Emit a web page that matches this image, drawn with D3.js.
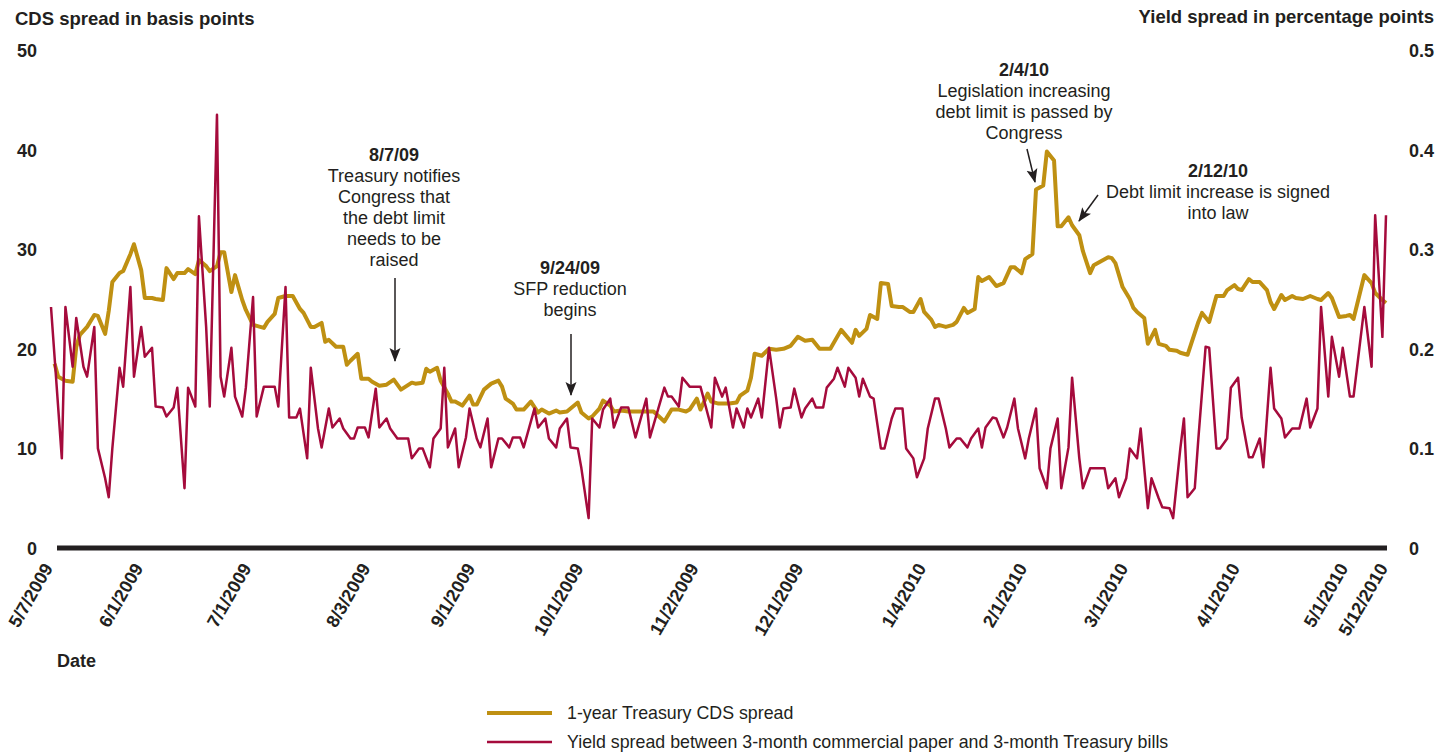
<!DOCTYPE html>
<html>
<head>
<meta charset="utf-8">
<script src="https://cdn.jsdelivr.net/npm/d3@7"></script>
<style>
body { margin: 0; background: #fff; }
text { font-family: "Liberation Sans", Arial, Helvetica, sans-serif; fill: #231f20; }
</style>
</head>
<body>
<div id="chart"></div>
<script>
// 1-year Treasury CDS spread (basis points)
var cdsDates = [
  "5/8/09","5/9/09","5/11/09","5/13/09","5/14/09","5/15/09","5/17/09","5/19/09","5/20/09","5/22/09",
  "5/23/09","5/24/09","5/26/09","5/27/09","5/29/09","5/30/09","6/1/09","6/2/09","6/4/09","6/5/09",
  "6/7/09","6/8/09","6/10/09","6/11/09","6/13/09","6/14/09","6/16/09","6/17/09","6/19/09","6/20/09",
  "6/22/09","6/23/09","6/24/09","6/26/09","6/27/09","6/29/09","6/30/09","7/2/09","7/3/09","7/5/09",
  "7/6/09","7/8/09","7/9/09","7/11/09","7/13/09","7/15/09","7/16/09","7/18/09","7/19/09","7/21/09",
  "7/22/09","7/23/09","7/25/09","7/27/09","7/28/09","7/29/09","7/31/09","8/1/09","8/3/09","8/4/09",
  "8/6/09","8/8/09","8/10/09","8/12/09","8/15/09","8/16/09","8/18/09","8/19/09","8/20/09","8/22/09",
  "8/23/09","8/25/09","8/26/09","8/27/09","8/29/09","8/31/09","9/1/09","9/2/09","9/4/09","9/6/09",
  "9/8/09","9/9/09","9/10/09","9/12/09","9/13/09","9/15/09","9/17/09","9/19/09","9/20/09","9/22/09",
  "9/24/09","9/25/09","9/27/09","9/28/09","9/30/09","10/1/09","10/3/09","10/4/09","10/6/09","10/7/09",
  "10/9/09","10/10/09","10/12/09","10/14/09","10/17/09","10/20/09","10/21/09","10/24/09","10/25/09","10/26/09",
  "10/28/09","10/30/09","10/31/09","11/2/09","11/3/09","11/5/09","11/6/09","11/8/09","11/11/09","11/13/09",
  "11/14/09","11/16/09","11/17/09","11/18/09","11/20/09","11/22/09","11/24/09","11/26/09","11/28/09","11/30/09",
  "12/2/09","12/4/09","12/6/09","12/9/09","12/12/09","12/15/09","12/16/09","12/17/09","12/19/09","12/20/09",
  "12/22/09","12/23/09","12/25/09","12/26/09","12/28/09","12/29/09","12/31/09","1/1/10","1/3/10","1/4/10",
  "1/6/10","1/7/10","1/8/10","1/10/10","1/12/10","1/13/10","1/15/10","1/16/10","1/18/10","1/19/10",
  "1/20/10","1/22/10","1/24/10","1/26/10","1/28/10","1/29/10","1/31/10","2/1/10","2/3/10","2/4/10",
  "2/6/10","2/7/10","2/9/10","2/10/10","2/11/10","2/13/10","2/14/10","2/16/10","2/17/10","2/19/10",
  "2/20/10","2/22/10","2/24/10","2/25/10","2/26/10","2/28/10","3/2/10","3/3/10","3/4/10","3/6/10",
  "3/7/10","3/9/10","3/10/10","3/12/10","3/13/10","3/15/10","3/16/10","3/18/10","3/19/10","3/21/10",
  "3/22/10","3/24/10","3/26/10","3/28/10","3/29/10","3/31/10","4/1/10","4/2/10","4/4/10","4/5/10",
  "4/7/10","4/9/10","4/10/10","4/11/10","4/13/10","4/14/10","4/16/10","4/17/10","4/19/10","4/21/10",
  "4/23/10","4/24/10","4/26/10","4/27/10","4/29/10","5/1/10","5/2/10","5/3/10","5/6/10","5/8/10",
  "5/9/10","5/11/10","5/12/10"
];
var cdsValues = [
  18.5,17.2,16.8,16.7,20.2,21.4,22.2,23.4,23.3,21.5,
  23.8,26.7,27.6,27.8,29.5,30.5,27.9,25.1,25.1,25.0,
  24.9,28.1,27.0,27.6,27.6,28.0,27.5,28.9,28.3,27.8,
  28.3,29.7,29.7,25.7,27.4,24.9,23.9,22.4,22.3,22.1,
  22.7,23.5,25.1,25.3,25.3,24.0,23.6,22.2,22.2,22.6,
  20.7,20.9,20.2,20.2,18.4,18.8,19.5,17.0,17.0,16.7,
  16.3,16.4,16.9,15.9,16.6,16.5,16.6,18.0,17.7,18.1,
  16.8,15.5,14.7,14.7,14.3,15.3,14.4,14.4,15.9,16.5,
  16.8,16.2,15.0,14.5,13.9,13.9,14.7,13.6,13.9,13.5,
  13.8,13.6,13.7,14.0,14.6,13.6,13.0,13.2,14.0,14.8,
  14.3,13.7,13.8,13.7,13.7,13.7,13.7,12.7,13.3,13.9,
  13.9,13.7,13.9,15.0,13.9,15.5,14.7,14.5,14.5,14.6,
  15.3,15.8,17.1,19.5,19.3,20.0,19.9,20.0,20.3,21.2,
  20.8,20.9,20.0,20.0,21.9,20.6,21.9,21.3,22.0,23.4,
  23.0,26.6,26.5,24.3,24.2,24.2,23.7,23.7,25.0,23.7,
  22.9,22.2,22.4,22.2,22.4,22.7,24.1,23.6,24.0,27.2,
  26.8,27.2,26.3,26.6,28.2,28.2,27.6,29.0,29.5,36.0,
  36.4,39.8,38.9,32.3,32.3,33.2,32.4,31.4,29.8,27.6,
  28.4,28.8,29.2,29.1,28.6,26.2,25.0,24.1,23.7,23.1,
  20.5,21.9,20.5,20.3,19.9,19.8,19.6,19.4,20.5,22.7,
  23.6,22.7,25.3,25.3,25.9,26.4,26.0,25.9,27.0,26.7,
  26.7,25.9,24.7,24.0,25.4,24.9,25.3,25.1,25.0,25.3,
  25.0,24.9,25.6,25.1,23.2,23.3,23.4,23.0,27.4,26.6,
  25.6,24.9,24.6
];

// yield spread, 3-month commercial paper minus 3-month T-bills (percentage points)
var yieldDates = [
  "5/7/09","5/10/09","5/11/09","5/13/09","5/14/09","5/16/09","5/17/09","5/19/09","5/20/09","5/22/09",
  "5/23/09","5/24/09","5/26/09","5/27/09","5/29/09","5/30/09","6/1/09","6/2/09","6/4/09","6/5/09",
  "6/7/09","6/8/09","6/10/09","6/11/09","6/13/09","6/14/09","6/16/09","6/17/09","6/19/09","6/20/09",
  "6/22/09","6/23/09","6/24/09","6/26/09","6/27/09","6/29/09","6/30/09","7/2/09","7/3/09","7/5/09",
  "7/8/09","7/9/09","7/11/09","7/12/09","7/14/09","7/15/09","7/17/09","7/18/09","7/20/09","7/21/09",
  "7/23/09","7/24/09","7/26/09","7/27/09","7/29/09","7/30/09","7/31/09","8/2/09","8/3/09","8/5/09",
  "8/6/09","8/8/09","8/9/09","8/11/09","8/14/09","8/15/09","8/17/09","8/18/09","8/20/09","8/21/09",
  "8/23/09","8/24/09","8/25/09","8/27/09","8/28/09","8/30/09","8/31/09","9/2/09","9/3/09","9/5/09",
  "9/6/09","9/8/09","9/9/09","9/11/09","9/12/09","9/14/09","9/15/09","9/18/09","9/19/09","9/21/09",
  "9/22/09","9/24/09","9/25/09","9/27/09","9/28/09","9/30/09","10/1/09","10/3/09","10/4/09","10/6/09",
  "10/7/09","10/9/09","10/10/09","10/12/09","10/14/09","10/16/09","10/19/09","10/20/09","10/24/09","10/25/09",
  "10/26/09","10/28/09","10/29/09","10/31/09","11/3/09","11/6/09","11/7/09","11/9/09","11/10/09","11/12/09",
  "11/13/09","11/15/09","11/16/09","11/17/09","11/19/09","11/20/09","11/22/09","11/24/09","11/25/09","11/26/09",
  "11/28/09","11/29/09","12/1/09","12/2/09","12/4/09","12/5/09","12/7/09","12/8/09","12/10/09","12/11/09",
  "12/13/09","12/14/09","12/16/09","12/17/09","12/18/09","12/20/09","12/21/09","12/23/09","12/24/09","12/26/09",
  "12/27/09","12/29/09","12/30/09","1/1/10","1/2/10","1/4/10","1/5/10","1/7/10","1/8/10","1/10/10",
  "1/11/10","1/13/10","1/14/10","1/16/10","1/17/10","1/19/10","1/20/10","1/21/10","1/23/10","1/24/10",
  "1/26/10","1/27/10","1/29/10","1/30/10","2/1/10","2/2/10","2/4/10","2/5/10","2/7/10","2/8/10",
  "2/10/10","2/11/10","2/13/10","2/14/10","2/16/10","2/17/10","2/19/10","2/23/10","2/24/10","2/26/10",
  "2/27/10","3/1/10","3/2/10","3/4/10","3/5/10","3/7/10","3/8/10","3/10/10","3/11/10","3/13/10",
  "3/14/10","3/16/10","3/17/10","3/18/10","3/20/10","3/21/10","3/23/10","3/24/10","3/26/10","3/27/10",
  "3/29/10","3/30/10","4/1/10","4/2/10","4/4/10","4/5/10","4/7/10","4/8/10","4/10/10","4/11/10",
  "4/13/10","4/14/10","4/16/10","4/18/10","4/20/10","4/21/10","4/23/10","4/24/10","4/26/10","4/27/10",
  "4/29/10","4/30/10","5/2/10","5/3/10","5/6/10","5/8/10","5/9/10","5/11/10","5/12/10"
];
var yieldValues = [
  0.242,0.090,0.242,0.182,0.231,0.182,0.172,0.222,0.100,0.070,
  0.051,0.100,0.181,0.162,0.262,0.172,0.222,0.192,0.201,0.142,
  0.141,0.132,0.141,0.161,0.060,0.161,0.142,0.333,0.222,0.142,
  0.435,0.172,0.152,0.201,0.152,0.132,0.161,0.252,0.132,0.162,
  0.162,0.142,0.262,0.131,0.131,0.140,0.090,0.181,0.120,0.101,
  0.140,0.121,0.130,0.120,0.110,0.110,0.121,0.121,0.111,0.160,
  0.121,0.130,0.120,0.110,0.110,0.090,0.100,0.100,0.081,0.110,
  0.120,0.181,0.101,0.120,0.081,0.111,0.140,0.110,0.101,0.130,
  0.081,0.110,0.110,0.101,0.111,0.111,0.101,0.140,0.121,0.130,
  0.110,0.101,0.120,0.130,0.101,0.100,0.080,0.030,0.130,0.121,
  0.139,0.150,0.121,0.141,0.141,0.111,0.150,0.111,0.161,0.152,
  0.152,0.142,0.171,0.162,0.162,0.121,0.171,0.152,0.161,0.121,
  0.140,0.121,0.140,0.131,0.150,0.131,0.201,0.150,0.121,0.140,
  0.141,0.160,0.131,0.140,0.150,0.141,0.141,0.161,0.170,0.181,
  0.162,0.181,0.171,0.152,0.170,0.152,0.150,0.100,0.100,0.130,
  0.140,0.140,0.100,0.090,0.071,0.090,0.120,0.150,0.150,0.120,
  0.101,0.110,0.110,0.101,0.110,0.120,0.101,0.121,0.131,0.130,
  0.111,0.121,0.150,0.120,0.090,0.110,0.140,0.080,0.060,0.100,
  0.130,0.060,0.101,0.171,0.090,0.060,0.080,0.080,0.060,0.070,
  0.051,0.070,0.100,0.090,0.120,0.040,0.070,0.050,0.041,0.040,
  0.030,0.100,0.130,0.051,0.060,0.110,0.202,0.201,0.100,0.100,
  0.110,0.161,0.171,0.131,0.091,0.091,0.110,0.081,0.181,0.140,
  0.130,0.111,0.120,0.120,0.150,0.121,0.140,0.242,0.152,0.212,
  0.172,0.201,0.152,0.152,0.242,0.182,0.334,0.212,0.334
];

var tickDates = ["5/7/09","6/1/09","7/1/09","8/3/09","9/1/09","10/1/09","11/2/09",
                 "12/1/09","1/4/10","2/1/10","3/1/10","4/1/10","5/1/10","5/12/10"];
var leftTicks = [0, 10, 20, 30, 40, 50];
var rightTicks = [0, 0.1, 0.2, 0.3, 0.4, 0.5];

var seriesNames = ["1-year Treasury CDS spread",
                   "Yield spread between 3-month commercial paper and 3-month Treasury bills"];

var notes = [
  {lines: ["8/7/09", "Treasury notifies", "Congress that", "the debt limit", "needs to be", "raised"],
   x: 394, y: 161, arrow: [395, 278, 395, 361]},
  {lines: ["9/24/09", "SFP reduction", "begins"],
   x: 570, y: 274, arrow: [571, 334, 571, 395]},
  {lines: ["2/4/10", "Legislation increasing", "debt limit is passed by", "Congress"],
   x: 1024, y: 76, arrow: [1027, 149, 1035, 182]},
  {lines: ["2/12/10", "Debt limit increase is signed", "into law"],
   x: 1218, y: 177, arrow: [1098, 195, 1079, 221]}
];

function init(){

    var w = 1454;
    var h = 756;
    var gold = "#bf9012";
    var red = "#a50b3c";
    var ink = "#231f20";

    var parse = d3.timeParse("%m/%d/%y");

    var cds = cdsDates.map(function(d, i){ return [parse(d), cdsValues[i]]; });
    var yld = yieldDates.map(function(d, i){ return [parse(d), yieldValues[i]]; });

    var xScale = d3.scaleTime()
        .domain([parse("5/7/09"), parse("5/12/10")])
        .range([51, 1386]);

    var yLeft = d3.scaleLinear().domain([0, 50]).range([548, 50]);
    var yRight = d3.scaleLinear().domain([0, 0.5]).range([548, 50]);

    var svg = d3.select("#chart")
                .append("svg")
                .attr("width", w)
                .attr("height", h);

    svg.append("defs").append("marker")
        .attr("id", "head")
        .attr("markerUnits", "userSpaceOnUse")
        .attr("viewBox", "0 -6 14 12")
        .attr("markerWidth", 14)
        .attr("markerHeight", 12)
        .attr("refX", 13)
        .attr("refY", 0)
        .attr("orient", "auto")
        .append("path")
        .attr("d", "M0,-5.5L14,0L0,5.5L3,0Z")
        .attr("fill", ink);

    // axis titles
    svg.append("text").attr("x", 15).attr("y", 25)
        .attr("font-size", 18.5).attr("font-weight", "bold")
        .text("CDS spread in basis points");
    svg.append("text").attr("x", 1434).attr("y", 23)
        .attr("text-anchor", "end")
        .attr("font-size", 18.5).attr("font-weight", "bold")
        .text("Yield spread in percentage points");
    svg.append("text").attr("x", 57).attr("y", 667)
        .attr("font-size", 18).attr("font-weight", "bold")
        .text("Date");

    // y axes
    var leftAxis = d3.axisLeft(yLeft).tickValues(leftTicks).tickSize(0).tickPadding(0)
        .tickFormat(d3.format("d"));
    var gl = svg.append("g").attr("transform", "translate(37,0)").call(leftAxis);

    var rightAxis = d3.axisRight(yRight).tickValues(rightTicks).tickSize(0).tickPadding(0)
        .tickFormat(function(d){ return d === 0 ? "0" : d3.format(".1f")(d); });
    var gr = svg.append("g").attr("transform", "translate(1409,0)").call(rightAxis);

    [gl, gr].forEach(function(g){
        g.select(".domain").remove();
        g.selectAll("text")
            .attr("font-size", 18)
            .attr("font-weight", "bold")
            .attr("font-family", null)
            .attr("fill", ink)
            .attr("dy", "0.36em");
    });

    // x axis
    var xAxis = d3.axisBottom(xScale)
        .tickValues(tickDates.map(parse))
        .tickFormat(d3.timeFormat("%-m/%-d/%Y"))
        .tickSize(0);

    var gx = svg.append("g")
        .attr("transform", "translate(0,548)")
        .call(xAxis);
    gx.select(".domain").remove();
    gx.selectAll("text")
        .attr("font-size", 18)
        .attr("font-weight", "bold")
        .attr("font-family", null)
        .attr("fill", ink)
        .attr("x", 0).attr("y", 0).attr("dy", 0)
        .attr("text-anchor", "end")
        .attr("transform", "translate(2,20) rotate(-60)");

    // series
    var lineLeft = d3.line()
        .x(function(d){ return xScale(d[0]); })
        .y(function(d){ return yLeft(d[1]); });
    var lineRight = d3.line()
        .x(function(d){ return xScale(d[0]); })
        .y(function(d){ return yRight(d[1]); });

    svg.append("path")
        .datum(cds)
        .attr("d", lineLeft)
        .attr("fill", "none")
        .attr("stroke", gold)
        .attr("stroke-width", 4)
        .attr("stroke-linejoin", "round");

    svg.append("path")
        .datum(yld)
        .attr("d", lineRight)
        .attr("fill", "none")
        .attr("stroke", red)
        .attr("stroke-width", 2.5)
        .attr("stroke-linejoin", "round");

    // baseline
    svg.append("line")
        .attr("x1", 57).attr("x2", 1387)
        .attr("y1", 548).attr("y2", 548)
        .attr("stroke", ink)
        .attr("stroke-width", 5);

    // annotations
    notes.forEach(function(n){
        var t = svg.append("text")
            .attr("text-anchor", "middle")
            .attr("font-size", 18);
        n.lines.forEach(function(s, i){
            t.append("tspan")
                .attr("x", n.x)
                .attr("y", n.y + i * 21)
                .attr("font-weight", i === 0 ? "bold" : "normal")
                .text(s);
        });
        svg.append("line")
            .attr("x1", n.arrow[0]).attr("y1", n.arrow[1])
            .attr("x2", n.arrow[2]).attr("y2", n.arrow[3])
            .attr("stroke", ink)
            .attr("stroke-width", 1.5)
            .attr("marker-end", "url(#head)");
    });

    // legend
    var legend = svg.append("g");
    var colors = [gold, red];
    var widths = [4, 2.5];
    seriesNames.forEach(function(name, i){
        var yy = 713 + i * 29;
        legend.append("line")
            .attr("x1", 487).attr("x2", 552)
            .attr("y1", yy).attr("y2", yy)
            .attr("stroke", colors[i])
            .attr("stroke-width", widths[i]);
        legend.append("text")
            .attr("x", 567).attr("y", yy + 6)
            .attr("font-size", 17.8)
            .text(name);
    });
}
window.onload = init;
</script>
</body>
</html>
